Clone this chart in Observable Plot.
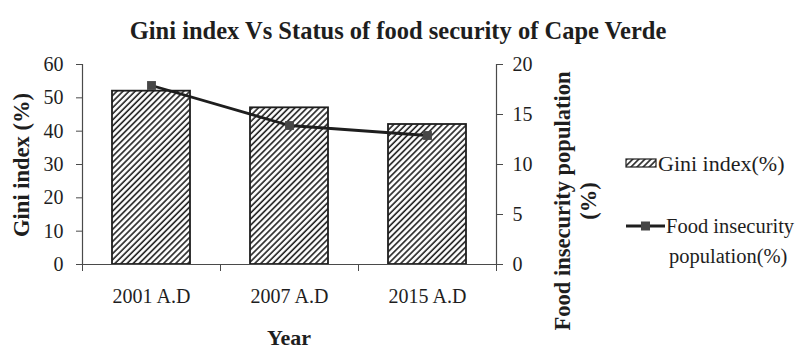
<!DOCTYPE html>
<html>
<head>
<meta charset="utf-8">
<script src="https://cdn.jsdelivr.net/npm/d3@7"></script>
<script src="https://cdn.jsdelivr.net/npm/@observablehq/plot@0.6"></script>
<style>
  html, body { margin: 0; padding: 0; background: #fff; }
  #chart { width: 799px; height: 350px; }
</style>
</head>
<body>
<div id="chart"></div>
<script>
// Years on the category axis
const years = ["2001 A.D", "2007 A.D", "2015 A.D"];
// Gini index (%) — left axis, bars
const gini = [52, 47, 42];
// Food insecurity population (%) — right axis, line
const foodInsecurity = [17.9, 13.9, 12.9];
// Tick values
const leftTicks = [0, 10, 20, 30, 40, 50, 60];
const rightTicks = [0, 5, 10, 15, 20];

// right axis runs 0–20 against the left 0–60
const ratio = 60 / 20;

const rows = years.map((year, i) => ({i, year, gini: gini[i], food: foodInsecurity[i]}));

const ink = "#1e1e1e";
const axisInk = "#4a4a4a";
const font = "'Liberation Serif', 'Times New Roman', serif";

const chart = Plot.plot({
  width: 799,
  height: 350,
  marginLeft: 82,
  marginRight: 303,
  marginTop: 64,
  marginBottom: 86,
  style: {fontFamily: font, fontSize: "20px", color: ink, background: "#fff"},
  x: {type: "linear", domain: [0, years.length], axis: null},
  y: {domain: [0, 60], axis: null},
  marks: [
    Plot.rectY(rows, {
      x1: d => d.i, x2: d => d.i + 1, y: "gini",
      insetLeft: 30, insetRight: 30,
      fill: "url(#hatch)", stroke: ink, strokeWidth: 1.8
    }),
    Plot.ruleX([0, years.length], {stroke: axisInk, strokeWidth: 1.2}),
    Plot.ruleY([0], {stroke: axisInk, strokeWidth: 1.2}),
    Plot.axisY({anchor: "left", ticks: leftTicks, tickSize: 6, tickPadding: 13, label: null, stroke: axisInk}),
    Plot.axisY({anchor: "right", ticks: rightTicks.map(t => t * ratio), tickFormat: d => d / ratio, tickSize: 6, tickPadding: 10, label: null, stroke: axisInk}),
    Plot.axisX({anchor: "bottom", ticks: d3.range(years.length + 1), tickFormat: () => "", tickSize: 7, label: null, stroke: axisInk}),
    Plot.axisX({anchor: "bottom", ticks: years.map((_, i) => i + 0.5), tickFormat: d => years[Math.floor(d)], tickSize: 0, tickPadding: 24, label: null}),
    Plot.line(rows, {x: d => d.i + 0.5, y: d => d.food * ratio, stroke: ink, strokeWidth: 2.8}),
    Plot.dot(rows, {x: d => d.i + 0.5, y: d => d.food * ratio, symbol: "square", r: 5, fill: "#464646", stroke: "none"})
  ]
});

const svg = d3.select(chart);

// diagonal hatch used by the bars
const defs = svg.insert("defs", ":first-child");
const pat = defs.append("pattern")
  .attr("id", "hatch")
  .attr("patternUnits", "userSpaceOnUse")
  .attr("width", 4.3).attr("height", 10)
  .attr("patternTransform", "rotate(45)");
pat.append("rect").attr("width", 4.3).attr("height", 10).attr("fill", "#fff");
pat.append("line").attr("x1", 1).attr("y1", 0).attr("x2", 1).attr("y2", 10)
  .attr("stroke", ink).attr("stroke-width", 1.6);

const extras = svg.append("g")
  .attr("font-family", font).attr("fill", ink)
  .attr("text-anchor", "start");

// title
extras.append("text")
  .attr("x", 398).attr("y", 30)
  .attr("text-anchor", "middle").attr("dominant-baseline", "central")
  .attr("font-size", 24.5).attr("font-weight", "bold")
  .text("Gini index Vs Status of food security of Cape Verde");

// axis titles
extras.append("text")
  .attr("transform", "translate(21,165) rotate(-90)")
  .attr("text-anchor", "middle").attr("dominant-baseline", "central")
  .attr("font-size", 22.5).attr("font-weight", "bold")
  .text("Gini index (%)");

extras.append("text")
  .attr("x", 289).attr("y", 337)
  .attr("text-anchor", "middle").attr("dominant-baseline", "central")
  .attr("font-size", 22).attr("font-weight", "bold")
  .text("Year");

[["Food insecurity population", 562], ["(%)", 588]].forEach(([t, x]) => {
  extras.append("text")
    .attr("transform", `translate(${x},201) rotate(-90)`)
    .attr("text-anchor", "middle").attr("dominant-baseline", "central")
    .attr("font-size", 22.5).attr("font-weight", "bold")
    .text(t);
});

// legend
const legend = extras.append("g").attr("font-size", 22).attr("text-anchor", "start");
legend.append("rect")
  .attr("x", 626).attr("y", 159).attr("width", 30).attr("height", 8)
  .attr("fill", "url(#hatch)").attr("stroke", ink).attr("stroke-width", 1.2);
legend.append("text").attr("x", 658).attr("y", 163).attr("dominant-baseline", "central").text("Gini index(%)");

legend.append("line")
  .attr("x1", 626).attr("x2", 665).attr("y1", 226).attr("y2", 226)
  .attr("stroke", ink).attr("stroke-width", 2.8);
legend.append("rect")
  .attr("x", 641).attr("y", 221.5).attr("width", 9).attr("height", 9).attr("fill", "#464646");
legend.append("text").attr("x", 666).attr("y", 226).attr("font-size", 20.5).attr("dominant-baseline", "central").text("Food insecurity");
legend.append("text").attr("x", 669).attr("y", 256).attr("font-size", 20.5).attr("dominant-baseline", "central").text("population(%)");

document.getElementById("chart").appendChild(chart);
</script>
</body>
</html>
